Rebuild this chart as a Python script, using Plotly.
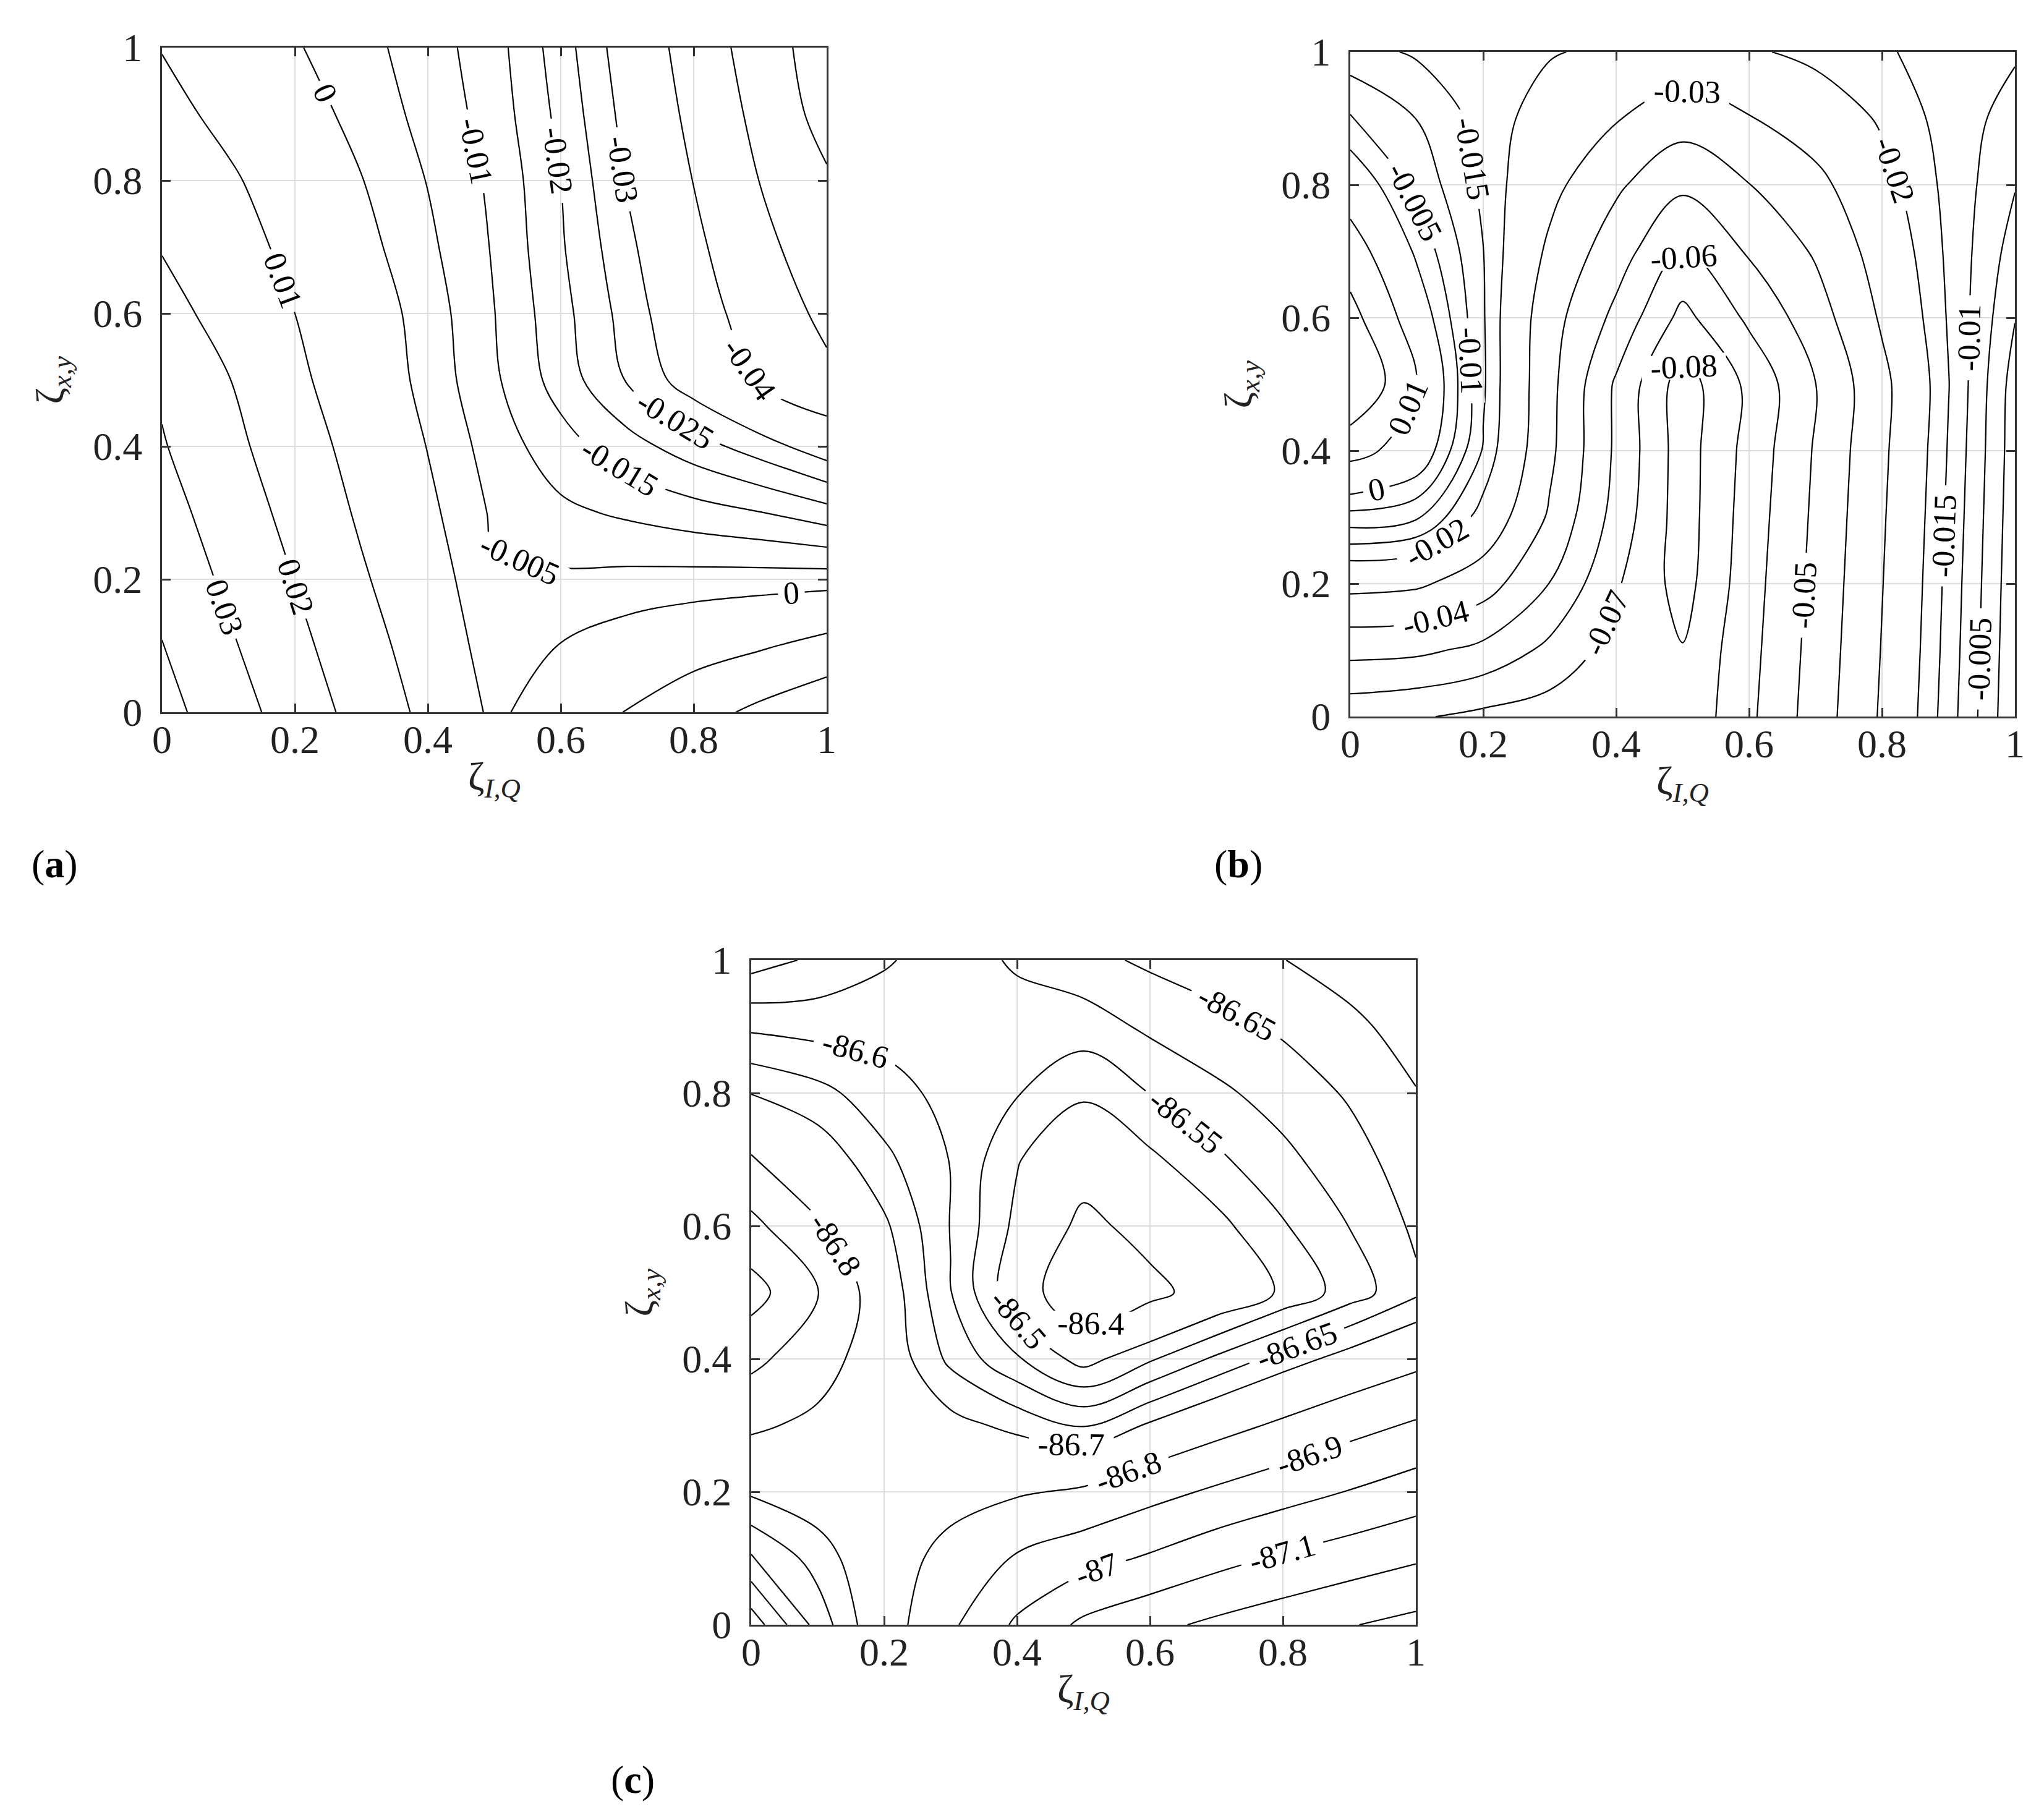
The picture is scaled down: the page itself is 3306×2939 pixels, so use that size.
import plotly.graph_objects as go

grid = [0.0, 0.1, 0.2, 0.3, 0.4, 0.5, 0.6, 0.7, 0.8, 0.9, 1.0]

# panel (a): rows are zeta_xy = 0 ... 1, columns zeta_IQ = 0 ... 1
z_a = [
    [0.0434, 0.0345, 0.0255, 0.0166, 0.0076, -0.0015, 0.0045, 0.0104, 0.0162, 0.0222, 0.0280],
    [0.0403, 0.0313, 0.0226, 0.0139, 0.0053, -0.0032, 0.0002, 0.0031, 0.0061, 0.0090, 0.0129],
    [0.0368, 0.0282, 0.0198, 0.0111, 0.0032, -0.0045, -0.0042, -0.0036, -0.0032, -0.0029, -0.0026],
    [0.0337, 0.0254, 0.0171, 0.0087, 0.0014, -0.0058, -0.0089, -0.0108, -0.0128, -0.0148, -0.0179],
    [0.0307, 0.0227, 0.0144, 0.0067, -0.0002, -0.0074, -0.0129, -0.0179, -0.0227, -0.0275, -0.0333],
    [0.0286, 0.0203, 0.0118, 0.0049, -0.0018, -0.0092, -0.0172, -0.0254, -0.0330, -0.0410, -0.0480],
    [0.0233, 0.0167, 0.0100, 0.0038, -0.0024, -0.0099, -0.0183, -0.0270, -0.0358, -0.0444, -0.0521],
    [0.0195, 0.0138, 0.0077, 0.0019, -0.0039, -0.0105, -0.0194, -0.0286, -0.0380, -0.0475, -0.0555],
    [0.0167, 0.0112, 0.0056, 0.0002, -0.0052, -0.0111, -0.0200, -0.0305, -0.0402, -0.0502, -0.0588],
    [0.0127, 0.0078, 0.0029, -0.0019, -0.0066, -0.0122, -0.0214, -0.0319, -0.0422, -0.0526, -0.0636],
    [0.0097, 0.0053, 0.0005, -0.0033, -0.0076, -0.0130, -0.0226, -0.0333, -0.0440, -0.0547, -0.0655],
]

# panel (b)
z_b = [
    [-0.0668, -0.0690, -0.0725, -0.0750, -0.0765, -0.0780, -0.0620, -0.0454, -0.0288, -0.0123, 0.0043],
    [-0.0469, -0.0479, -0.0525, -0.0625, -0.0740, -0.0795, -0.0631, -0.0463, -0.0296, -0.0129, 0.0039],
    [-0.0269, -0.0284, -0.0353, -0.0502, -0.0688, -0.0840, -0.0642, -0.0472, -0.0303, -0.0134, 0.0035],
    [-0.0069, -0.0093, -0.0225, -0.0413, -0.0637, -0.0850, -0.0653, -0.0481, -0.0310, -0.0140, 0.0031],
    [0.0132, 0.0057, -0.0155, -0.0378, -0.0617, -0.0850, -0.0665, -0.0490, -0.0318, -0.0146, 0.0027],
    [0.0310, 0.0099, -0.0142, -0.0370, -0.0614, -0.0850, -0.0677, -0.0501, -0.0325, -0.0152, 0.0023],
    [0.0234, 0.0046, -0.0145, -0.0360, -0.0525, -0.0731, -0.0581, -0.0445, -0.0288, -0.0145, -0.0002],
    [0.0147, -0.0011, -0.0149, -0.0318, -0.0454, -0.0605, -0.0489, -0.0389, -0.0256, -0.0140, -0.0027],
    [0.0050, -0.0065, -0.0161, -0.0272, -0.0384, -0.0480, -0.0402, -0.0326, -0.0224, -0.0135, -0.0053],
    [-0.0045, -0.0101, -0.0169, -0.0232, -0.0294, -0.0356, -0.0305, -0.0251, -0.0191, -0.0129, -0.0079],
    [-0.0130, -0.0157, -0.0176, -0.0195, -0.0215, -0.0235, -0.0210, -0.0181, -0.0156, -0.0130, -0.0106],
]

# panel (c)
z_c = [
    [-86.470, -86.619, -86.754, -86.883, -87.016, -87.120, -87.174, -87.220, -87.258, -87.295, -87.328],
    [-86.593, -86.672, -86.755, -86.830, -86.910, -86.963, -87.012, -87.067, -87.113, -87.151, -87.188],
    [-86.708, -86.735, -86.750, -86.768, -86.790, -86.813, -86.867, -86.915, -86.960, -87.004, -87.049],
    [-86.815, -86.780, -86.755, -86.719, -86.685, -86.647, -86.708, -86.765, -86.816, -86.866, -86.912],
    [-86.925, -86.840, -86.744, -86.638, -86.556, -86.479, -86.543, -86.610, -86.671, -86.724, -86.773],
    [-87.040, -86.902, -86.740, -86.602, -86.459, -86.310, -86.376, -86.442, -86.509, -86.574, -86.640],
    [-86.927, -86.809, -86.710, -86.598, -86.486, -86.377, -86.431, -86.484, -86.545, -86.601, -86.659],
    [-86.808, -86.737, -86.662, -86.598, -86.504, -86.443, -86.489, -86.540, -86.588, -86.628, -86.679],
    [-86.698, -86.666, -86.620, -86.585, -86.553, -86.509, -86.551, -86.590, -86.620, -86.656, -86.698],
    [-86.590, -86.580, -86.582, -86.580, -86.577, -86.574, -86.610, -86.633, -86.658, -86.690, -86.718],
    [-86.477, -86.510, -86.544, -86.576, -86.607, -86.635, -86.659, -86.679, -86.699, -86.719, -86.739],
]

# contour levels as (start, end, step) groups; the finely spaced levels share
# one group so their labels keep clear of each other
levels_a = [(-0.06, -0.03, 0.01), (-0.025, 0.0, 0.005), (0.01, 0.04, 0.01)]
levels_b = [(-0.08, -0.03, 0.01), (-0.02, 0.0, 0.005), (0.01, 0.02, 0.01)]
levels_c = [(-87.3, -86.8, 0.1), (-86.7, -86.5, 0.05), (-86.4, -86.4, 0.1)]

tick_vals = [0, 0.2, 0.4, 0.6, 0.8, 1]
tick_text = ["0", "0.2", "0.4", "0.6", "0.8", "1"]

SERIF = "Liberation Serif"
W, H = 3306, 2939

fig = go.Figure()


def add_panel(z, levels, fmt, xa, ya):
    for start, end, step in levels:
        fig.add_trace(go.Contour(
            x=grid, y=grid, z=z,
            xaxis=xa, yaxis=ya,
            autocontour=False,
            contours=dict(start=start, end=end, size=step, coloring="lines",
                          showlabels=True, labelformat=fmt,
                          labelfont=dict(family=SERIF, size=52, color="black")),
            colorscale=[[0, "black"], [1, "black"]],
            showscale=False,
            line=dict(width=2.2, smoothing=1.0),
            hoverinfo="skip",
        ))


add_panel(z_a, levels_a, ".3~f", "x", "y")
add_panel(z_b, levels_b, ".3~f", "x2", "y2")
add_panel(z_c, levels_c, ".2~f", "x3", "y3")


def axis(domain, anchor, standoff):
    return dict(
        domain=domain, anchor=anchor, range=[0, 1], automargin=False,
        tickvals=tick_vals, ticktext=tick_text,
        ticks="inside", ticklen=14, tickwidth=3, tickcolor="#333333",
        showline=True, linecolor="#333333", linewidth=3, mirror="ticks",
        showgrid=True, gridcolor="#dddddd", gridwidth=2, zeroline=False,
        tickfont=dict(family=SERIF, size=64, color="#222222"),
        ticklabelstandoff=standoff,
    )


# plot areas in pixels: (left, right, top, bottom)
boxes = [(254, 1329, 69, 1144), (2176, 3251, 76, 1151), (1207, 2282, 1545, 2620)]
names = [("xaxis", "yaxis", "y", "x"), ("xaxis2", "yaxis2", "y2", "x2"), ("xaxis3", "yaxis3", "y3", "x3")]
layout_axes = {}
for (l, r, t, b), (xn, yn, ya, xa) in zip(boxes, names):
    layout_axes[xn] = axis([l / W, r / W], ya, -14)
    layout_axes[yn] = axis([1 - b / H, 1 - t / H], xa, 16)

fig.update_layout(
    width=W, height=H,
    margin=dict(l=0, r=0, t=0, b=0, pad=0, autoexpand=False),
    paper_bgcolor="white", plot_bgcolor="white",
    font=dict(family=SERIF, size=52, color="black"),
    showlegend=False,
    **layout_axes,
)

xlabel = "ζ<sub><i>I,Q</i></sub>"
ylabel = "ζ<sub><i>x,y</i></sub>"
for (l, r, t, b) in boxes:
    fig.add_annotation(x=(l + r) / 2 / W, y=1 - (b + 108) / H, xref="paper", yref="paper",
                       text=xlabel, showarrow=False,
                       font=dict(family=SERIF, size=64, color="#222222"),
                       xanchor="center", yanchor="middle")
    fig.add_annotation(x=(l - 178) / W, y=1 - (t + b) / 2 / H, xref="paper", yref="paper",
                       text=ylabel, textangle=-90, showarrow=False,
                       font=dict(family=SERIF, size=64, color="#222222"),
                       xanchor="center", yanchor="middle")

panel_tags = [("(<b>a</b>)", 80, 1390), ("(<b>b</b>)", 1995, 1390), ("(<b>c</b>)", 1016, 2870)]
for text, px, py in panel_tags:
    fig.add_annotation(x=px / W, y=1 - py / H, xref="paper", yref="paper", text=text,
                       showarrow=False, font=dict(family=SERIF, size=64, color="black"),
                       xanchor="center", yanchor="middle")

# contour labels in the source use a plain hyphen for the minus sign
fix_minus = """
var gd = document.getElementById('{plot_id}');
function fixMinus() {
  gd.querySelectorAll('.contourlabels text').forEach(function (t) {
    if (t.textContent.indexOf('\\u2212') >= 0) {
      t.textContent = t.textContent.replace(/\\u2212/g, '-');
    }
  });
}
fixMinus();
setTimeout(fixMinus, 100);
setTimeout(fixMinus, 600);
if (gd.on) { gd.on('plotly_afterplot', fixMinus); }
"""

fig.write_html("out.html", post_script=fix_minus)
